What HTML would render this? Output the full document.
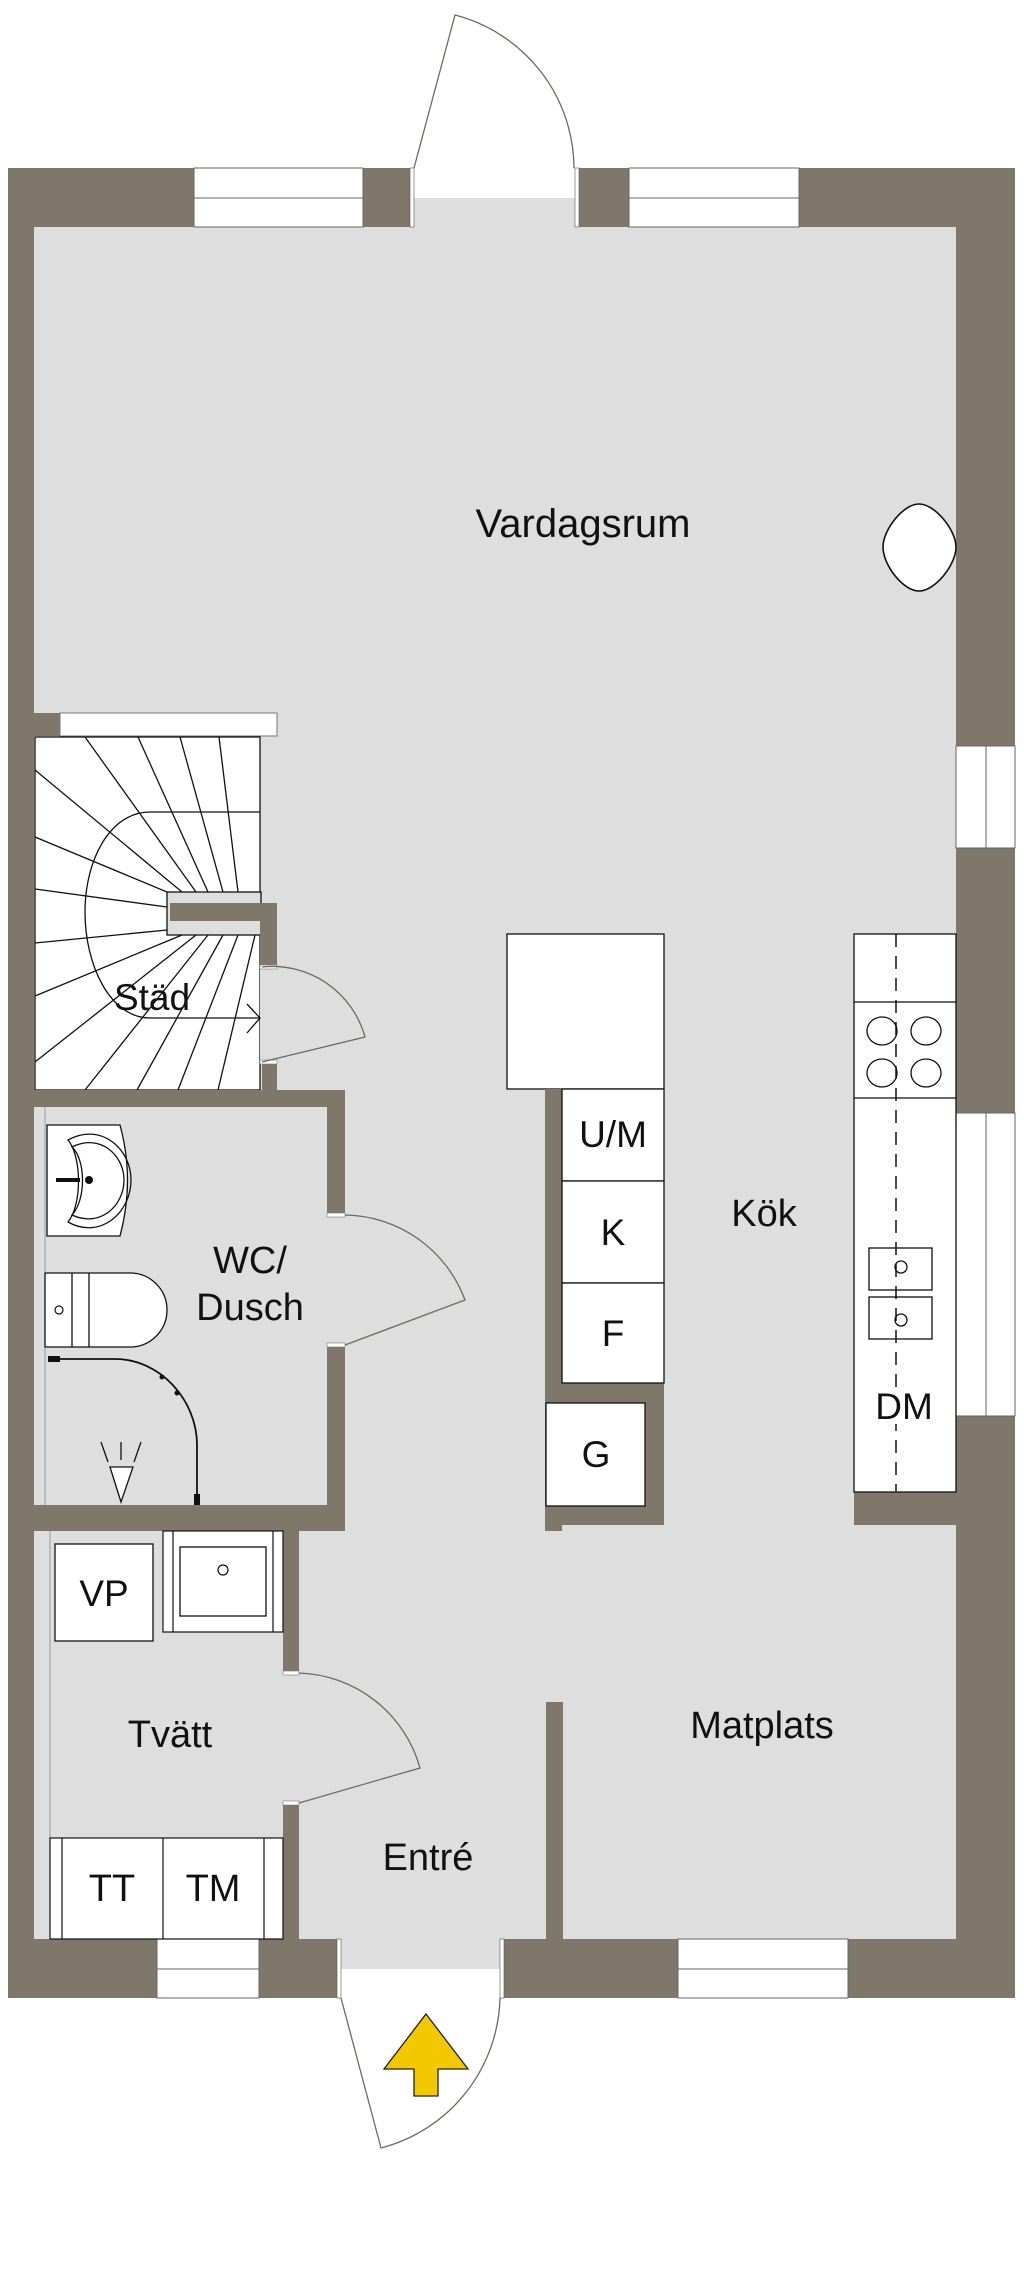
<!DOCTYPE html>
<html><head><meta charset="utf-8"><style>
html,body{margin:0;padding:0;background:#fff;}
svg{display:block;}
text{font-family:"Liberation Sans",Arial,sans-serif;fill:#111;text-anchor:middle;}
</style></head><body>
<svg width="1024" height="2281" viewBox="0 0 1024 2281" xmlns="http://www.w3.org/2000/svg">
<rect x="8" y="168" width="1007" height="1830" fill="#7f786a"/>
<rect x="34" y="227" width="922" height="1712" fill="#dedede"/>
<!-- top door opening -->
<rect x="410" y="168" width="169" height="30" fill="#fff"/>
<rect x="410" y="198" width="169" height="29" fill="#dedede"/>
<rect x="410" y="168" width="4" height="59" fill="#fff" stroke="#555" stroke-width="0.6"/>
<rect x="575" y="168" width="4" height="59" fill="#fff" stroke="#555" stroke-width="0.6"/>
<path d="M414,168 L455,15 A159,159 0 0 1 574,168" fill="#fff" stroke="#6e6a62" stroke-width="1.3"/>
<g fill="#fff" stroke="#666" stroke-width="1">
<rect x="194" y="168" width="169" height="59"/><line x1="194" y1="198" x2="363" y2="198"/>
<rect x="629" y="168" width="170" height="59"/><line x1="629" y1="198" x2="799" y2="198"/>
<rect x="956" y="746" width="59" height="102"/><line x1="986" y1="746" x2="986" y2="848"/>
<rect x="956" y="1113" width="59" height="303"/><line x1="986" y1="1113" x2="986" y2="1416"/>
<rect x="157" y="1939" width="102" height="59"/><line x1="157" y1="1969" x2="259" y2="1969"/>
<rect x="678" y="1939" width="170" height="59"/><line x1="678" y1="1969" x2="848" y2="1969"/>
</g>
<path d="M919,504 C935,504 956,530 956,547 C956,565 935,591 919,591 C903,591 883,565 883,547 C883,530 903,504 919,504 Z" fill="#fff" stroke="#111" stroke-width="1.6"/>

<!-- stairs -->
<rect x="34" y="713" width="26" height="23" fill="#7f786a"/>
<rect x="60" y="713" width="217" height="23" fill="#fff" stroke="#777" stroke-width="1"/>
<rect x="35" y="737" width="225" height="353" fill="#fff" stroke="#111" stroke-width="1.3"/>
<rect x="167" y="892" width="94" height="43" fill="#dedede" stroke="#111" stroke-width="1.3"/>
<rect x="170" y="903" width="107" height="18" fill="#7f786a"/>
<rect x="260" y="903" width="17" height="64" fill="#7f786a"/>
<rect x="262" y="1062" width="15" height="28" fill="#7f786a"/>
<rect x="260" y="967" width="17" height="95" fill="#dedede"/>
<g stroke="#111" stroke-width="1.3" fill="none">
<line x1="35" y1="770" x2="182" y2="892"/>
<line x1="85" y1="737" x2="196" y2="892"/>
<line x1="138" y1="737" x2="208" y2="892"/>
<line x1="180" y1="737" x2="223" y2="892"/>
<line x1="219" y1="737" x2="238" y2="892"/>
<line x1="35" y1="837" x2="167" y2="892"/>
<line x1="35" y1="889" x2="167" y2="907"/>
<line x1="35" y1="943" x2="167" y2="930"/>
<line x1="35" y1="996" x2="182" y2="935"/>
<line x1="35" y1="1062" x2="196" y2="935"/>
<line x1="85" y1="1090" x2="208" y2="935"/>
<line x1="137" y1="1090" x2="223" y2="935"/>
<line x1="178" y1="1090" x2="238" y2="935"/>
<line x1="218" y1="1090" x2="255" y2="935"/>
<path d="M260,812 H150 C110,812 85,860 85,912 C85,965 110,1018 150,1018 H260"/>
<path d="M247,1004 L260,1018 L247,1033"/>
</g>
<rect x="260" y="965" width="17" height="4" fill="#fff" stroke="#777" stroke-width="0.6"/>
<rect x="260" y="1060" width="17" height="4" fill="#fff" stroke="#777" stroke-width="0.6"/>
<path d="M262,967 A96,96 0 0 1 365,1037 L262,1062" fill="none" stroke="#6e6a62" stroke-width="1.3"/>
<text x="152" y="1010" font-size="37">Städ</text>

<!-- WC -->
<rect x="8" y="1090" width="337" height="17" fill="#7f786a"/>
<rect x="327" y="1090" width="18" height="125" fill="#7f786a"/>
<rect x="327" y="1345" width="18" height="186" fill="#7f786a"/>
<rect x="8" y="1505" width="337" height="26" fill="#7f786a"/>
<rect x="327" y="1213" width="18" height="4" fill="#fff" stroke="#777" stroke-width="0.6"/>
<rect x="327" y="1343" width="18" height="4" fill="#fff" stroke="#777" stroke-width="0.6"/>
<path d="M345,1215 A130,130 0 0 1 465,1300 L345,1345" fill="none" stroke="#6e6a62" stroke-width="1.3"/>
<line x1="45" y1="1107" x2="45" y2="1505" stroke="#999" stroke-width="1"/>
<path d="M47,1125 H120 Q135,1180 120,1236 H47 Z" fill="#fff" stroke="#111" stroke-width="1.3"/>
<path d="M68,1140 C100,1122 131,1148 131,1180 C131,1213 100,1240 68,1222 C82,1205 82,1157 68,1140 Z" fill="none" stroke="#111" stroke-width="1.3"/>
<path d="M72,1147 C100,1133 124,1155 124,1180 C124,1206 100,1228 72,1215 C86,1200 86,1160 72,1147 Z" fill="none" stroke="#111" stroke-width="1.3"/>
<line x1="56" y1="1180" x2="80" y2="1180" stroke="#111" stroke-width="4"/>
<circle cx="89" cy="1180" r="4" fill="#111"/>
<path d="M45,1273 H130 A37,37 0 0 1 130,1347 H45 Z" fill="#fff" stroke="#111" stroke-width="1.3"/>
<line x1="72" y1="1273" x2="72" y2="1347" stroke="#111" stroke-width="1.3"/>
<line x1="89" y1="1273" x2="89" y2="1347" stroke="#111" stroke-width="1.3"/>
<circle cx="59" cy="1310" r="4" fill="none" stroke="#111" stroke-width="1.2"/>
<path d="M48,1359 H115 C160,1359 197,1400 197,1445 V1503" fill="none" stroke="#111" stroke-width="1.8"/>
<rect x="48" y="1356" width="12" height="6" fill="#111"/>
<rect x="194" y="1494" width="6" height="11" fill="#111"/>
<circle cx="162" cy="1377" r="2.5" fill="#111"/><circle cx="177" cy="1393" r="2.5" fill="#111"/>
<g stroke="#111" stroke-width="1.3" fill="none">
<path d="M110,1467 H133 L121,1502 Z" fill="#fff"/>
<line x1="121" y1="1442" x2="121" y2="1460"/>
<line x1="101" y1="1442" x2="108" y2="1462"/>
<line x1="141" y1="1442" x2="134" y2="1462"/>
</g>
<text x="250" y="1273" font-size="38">WC/</text>
<text x="250" y="1320" font-size="38">Dusch</text>

<!-- Tvätt -->
<rect x="283" y="1531" width="16" height="142" fill="#7f786a"/>
<rect x="283" y="1803" width="16" height="136" fill="#7f786a"/>
<rect x="283" y="1671" width="16" height="4" fill="#fff" stroke="#777" stroke-width="0.6"/>
<rect x="283" y="1801" width="16" height="4" fill="#fff" stroke="#777" stroke-width="0.6"/>
<path d="M299,1673 A130,130 0 0 1 420,1768 L299,1803" fill="none" stroke="#6e6a62" stroke-width="1.3"/>
<line x1="50" y1="1531" x2="50" y2="1939" stroke="#999" stroke-width="1"/>
<rect x="55" y="1544" width="98" height="97" fill="#fff" stroke="#111" stroke-width="1.3"/>
<text x="104" y="1606" font-size="37">VP</text>
<rect x="163" y="1531" width="120" height="101" fill="#fff" stroke="#111" stroke-width="1.2"/>
<line x1="173" y1="1531" x2="173" y2="1632" stroke="#111" stroke-width="1.2"/>
<line x1="273" y1="1531" x2="273" y2="1632" stroke="#111" stroke-width="1.2"/>
<rect x="180" y="1547" width="86" height="69" fill="#fff" stroke="#111" stroke-width="1.3"/>
<circle cx="223" cy="1570" r="5" fill="none" stroke="#111" stroke-width="1.2"/>
<text x="170" y="1747" font-size="38">Tvätt</text>
<rect x="50" y="1838" width="233" height="101" fill="#fff" stroke="#111" stroke-width="1.2"/>
<line x1="62" y1="1838" x2="62" y2="1939" stroke="#111" stroke-width="1.2"/>
<line x1="163" y1="1838" x2="163" y2="1939" stroke="#111" stroke-width="1.2"/>
<line x1="264" y1="1838" x2="264" y2="1939" stroke="#111" stroke-width="1.2"/>
<text x="112" y="1901" font-size="38">TT</text>
<text x="213" y="1901" font-size="38">TM</text>

<!-- Entrance -->
<rect x="341" y="1939" width="159" height="30" fill="#dedede"/>
<rect x="341" y="1969" width="159" height="29" fill="#fff"/>
<rect x="337" y="1939" width="4" height="59" fill="#fff" stroke="#555" stroke-width="0.6"/>
<rect x="500" y="1939" width="4" height="59" fill="#fff" stroke="#555" stroke-width="0.6"/>
<path d="M341,1998 L381,2148 A159,159 0 0 0 500,1998" fill="#fff" stroke="#6e6a62" stroke-width="1.3"/>
<path d="M426,2014 L468,2069 H438 V2096 H414 V2069 H384 Z" fill="#f2c800" stroke="#222" stroke-width="1.3"/>
<text x="428" y="1870" font-size="38">Entré</text>
<rect x="546" y="1702" width="17" height="237" fill="#7f786a"/>

<!-- Kitchen column -->
<rect x="507" y="934" width="157" height="155" fill="#fff" stroke="#111" stroke-width="1.3"/>
<rect x="545" y="1089" width="17" height="442" fill="#7f786a"/>
<rect x="545" y="1383" width="119" height="142" fill="#7f786a"/>
<rect x="562" y="1089" width="102" height="92" fill="#fff" stroke="#111" stroke-width="1.3"/>
<rect x="562" y="1181" width="102" height="102" fill="#fff" stroke="#111" stroke-width="1.3"/>
<rect x="562" y="1283" width="102" height="100" fill="#fff" stroke="#111" stroke-width="1.3"/>
<rect x="546" y="1403" width="99" height="103" fill="#fff" stroke="#111" stroke-width="1.3"/>
<text x="613" y="1147" font-size="37">U/M</text>
<text x="613" y="1245" font-size="37">K</text>
<text x="613" y="1346" font-size="37">F</text>
<text x="596" y="1467" font-size="37">G</text>
<text x="764" y="1226" font-size="38">Kök</text>

<!-- right counter -->
<rect x="854" y="1492" width="161" height="33" fill="#7f786a"/>
<rect x="854" y="934" width="102" height="558" fill="#fff" stroke="#111" stroke-width="1.3"/>
<line x1="854" y1="1002" x2="956" y2="1002" stroke="#111" stroke-width="1.3"/>
<line x1="854" y1="1098" x2="956" y2="1098" stroke="#111" stroke-width="1.3"/>
<g fill="none" stroke="#111" stroke-width="1.3">
<ellipse cx="882" cy="1031" rx="15" ry="14"/><ellipse cx="926" cy="1031" rx="15" ry="14"/>
<ellipse cx="882" cy="1073" rx="15" ry="14"/><ellipse cx="926" cy="1073" rx="15" ry="14"/>
<rect x="869" y="1248" width="63" height="42" fill="#fff"/>
<rect x="869" y="1297" width="63" height="42" fill="#fff"/>
<circle cx="901" cy="1267" r="6"/><circle cx="901" cy="1320" r="6"/>
</g>
<line x1="896" y1="934" x2="896" y2="1492" stroke="#111" stroke-width="1.5" stroke-dasharray="13,9"/>
<rect x="876" y="1392" width="40" height="32" fill="#fff"/>
<text x="904" y="1419" font-size="37">DM</text>
<text x="762" y="1738" font-size="38">Matplats</text>
<text x="583" y="537" font-size="40">Vardagsrum</text>
</svg>
</body></html>
